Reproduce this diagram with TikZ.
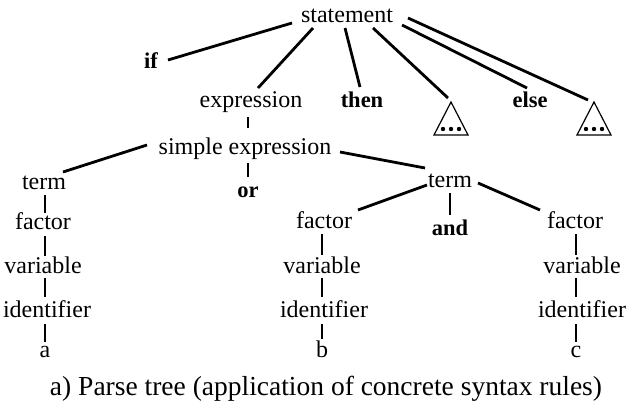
\documentclass[tikz,border=0pt]{standalone}
\usepackage{fontspec}
\setmainfont{Liberation Serif}
\tikzset{
  nt/.style={anchor=base, inner sep=0pt, font=\fontsize{24}{28}\selectfont},
  kw/.style={anchor=base, inner sep=0pt, font=\fontsize{22.5}{26}\selectfont\bfseries},
  edge/.style={line width=2.8pt},
  subtree/.style={line width=1.2pt, line join=miter},
}
% draws an elided subtree (triangle with dots) below coordinate #1
\newcommand{\elided}[1]{%
  \draw[subtree] ([shift={(0,-29)}]#1) -- ([shift={(-17,4)}]#1) -- ([shift={(17,4)}]#1) -- cycle;
  \foreach \dx in {-8,0,8} \fill ([shift={(\dx,-2)}]#1) circle (2.2pt);
}
\begin{document}
\begin{tikzpicture}[x=1pt,y=-1pt]
\useasboundingbox (0,0) rectangle (629,407);

% nodes
\node[nt] (stmt) at (347,22) {statement};
\node[kw] (if) at (151,68) {if};
\node[nt] (expr) at (251,107) {expression};
\node[kw] (then) at (362,107) {then};
\node[kw] (else) at (530,107) {else};
\coordinate (t1) at (451,131);
\coordinate (t2) at (594,131);
\node[nt] (sexpr) at (245,154) {simple expression};
\node[nt] (termL) at (44,189) {term};
\node[kw] (or) at (248,197) {or};
\node[nt] (termR) at (450,187) {term};
\node[nt] (factorL) at (43,229) {factor};
\node[nt] (factorM) at (324,228) {factor};
\node[kw] (and) at (450,235) {and};
\node[nt] (factorR) at (575,228) {factor};
\node[nt] (varL) at (43,273) {variable};
\node[nt] (varM) at (322,273) {variable};
\node[nt] (varR) at (582,273) {variable};
\node[nt] (idL) at (47,317) {identifier};
\node[nt] (idM) at (324,317) {identifier};
\node[nt] (idR) at (582,317) {identifier};
\node[nt] (a) at (45,357) {a};
\node[nt] (b) at (322,357) {b};
\node[nt] (c) at (576,357) {c};
\node[anchor=base, inner sep=0pt, font=\fontsize{27.5}{32}\selectfont] (cap) at (326,395)
  {a) Parse tree (application of concrete syntax rules)};

\elided{t1}
\elided{t2}

% edges from statement
\draw[edge] ([shift={(-55,1)}]stmt.base) -- ([shift={(17,-8)}]if.base);
\draw[edge] ([shift={(-34,6)}]stmt.base) -- ([shift={(7,-19)}]expr.base);
\draw[edge] ([shift={(-2,6)}]stmt.base) -- ([shift={(-2,-20)}]then.base);
\draw[edge] ([shift={(26,6)}]stmt.base) -- ([shift={(-3,-33)}]t1);
\draw[edge] ([shift={(55,3)}]stmt.base) -- ([shift={(-3,-19)}]else.base);
\draw[edge] ([shift={(61,-4)}]stmt.base) -- ([shift={(-6,-31)}]t2);

% expression and simple expression
\draw[edge] ([shift={(-3,10)}]expr.base) -- ([shift={(3,-26)}]sexpr.base);
\draw[edge] ([shift={(-98,-9)}]sexpr.base) -- ([shift={(19,-17)}]termL.base);
\draw[edge] ([shift={(3,9)}]sexpr.base) -- ([shift={(0,-20)}]or.base);
\draw[edge] ([shift={(95,-2)}]sexpr.base) -- ([shift={(-25,-19)}]termR.base);

% right term
\draw[edge] ([shift={(-23,-2)}]termR.base) -- ([shift={(34,-18)}]factorM.base);
\draw[edge] ([shift={(0,6)}]termR.base) -- ([shift={(0,-20)}]and.base);
\draw[edge] ([shift={(28,-4)}]termR.base) -- ([shift={(-35,-18)}]factorR.base);

% left column
\draw[edge] ([shift={(1,6)}]termL.base) -- ([shift={(2,-16)}]factorL.base);
\draw[edge] ([shift={(2,7)}]factorL.base) -- ([shift={(2,-17)}]varL.base);
\draw[edge] ([shift={(2,5)}]varL.base) -- ([shift={(-2,-20)}]idL.base);
\draw[edge] ([shift={(-2,7)}]idL.base) -- ([shift={(0,-15)}]a.base);

% middle column
\draw[edge] ([shift={(-2,6)}]factorM.base) -- ([shift={(0,-18)}]varM.base);
\draw[edge] ([shift={(0,5)}]varM.base) -- ([shift={(-2,-20)}]idM.base);
\draw[edge] ([shift={(-2,7)}]idM.base) -- ([shift={(0,-18)}]b.base);

% right column
\draw[edge] ([shift={(1,6)}]factorR.base) -- ([shift={(-6,-18)}]varR.base);
\draw[edge] ([shift={(-6,5)}]varR.base) -- ([shift={(-6,-20)}]idR.base);
\draw[edge] ([shift={(-6,7)}]idR.base) -- ([shift={(0,-15)}]c.base);
\end{tikzpicture}
\end{document}
